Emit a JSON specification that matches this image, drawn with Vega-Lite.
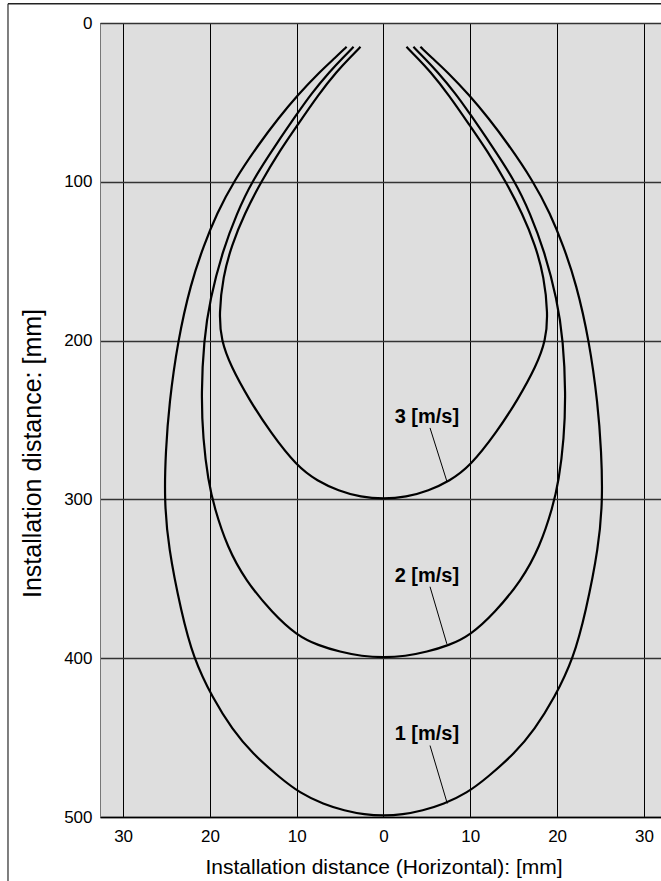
{
  "$schema": "https://vega.github.io/schema/vega-lite/v6.json",
  "autosize": "none",
  "width": 561,
  "height": 794,
  "padding": {"left": 100, "top": 23, "right": 0, "bottom": 64},
  "background": "white",
  "config": {
    "font": "Liberation Sans",
    "view": {"fill": "#dedede", "stroke": "#000", "strokeWidth": 1},
    "axis": {"labelFont": "Liberation Sans", "titleFont": "Liberation Sans", "labelColor": "#000", "titleColor": "#000", "titleFontWeight": "normal"}
  },
  "datasets": {
    "curves": [
      {"curve": "1", "o": 1, "x": -4.25, "y": 15},
      {"curve": "1", "o": 2, "x": -5.6, "y": 22},
      {"curve": "1", "o": 3, "x": -7.2, "y": 30},
      {"curve": "1", "o": 4, "x": -10.0, "y": 46},
      {"curve": "1", "o": 5, "x": -12.1, "y": 60},
      {"curve": "1", "o": 6, "x": -14.2, "y": 75},
      {"curve": "1", "o": 7, "x": -17.3, "y": 100},
      {"curve": "1", "o": 8, "x": -19.2, "y": 120},
      {"curve": "1", "o": 9, "x": -20.7, "y": 140},
      {"curve": "1", "o": 10, "x": -22.2, "y": 164},
      {"curve": "1", "o": 11, "x": -23.7, "y": 200},
      {"curve": "1", "o": 12, "x": -24.7, "y": 240},
      {"curve": "1", "o": 13, "x": -25.1, "y": 270},
      {"curve": "1", "o": 14, "x": -25.25, "y": 300},
      {"curve": "1", "o": 15, "x": -24.8, "y": 330},
      {"curve": "1", "o": 16, "x": -23.3, "y": 371},
      {"curve": "1", "o": 17, "x": -21.9, "y": 400},
      {"curve": "1", "o": 18, "x": -19.7, "y": 425},
      {"curve": "1", "o": 19, "x": -17.4, "y": 445},
      {"curve": "1", "o": 20, "x": -15.1, "y": 460},
      {"curve": "1", "o": 21, "x": -12.0, "y": 475},
      {"curve": "1", "o": 22, "x": -9.6, "y": 485},
      {"curve": "1", "o": 23, "x": -6.9, "y": 492},
      {"curve": "1", "o": 24, "x": -4.5, "y": 496},
      {"curve": "1", "o": 25, "x": -2.2, "y": 498.5},
      {"curve": "1", "o": 26, "x": 0, "y": 499.2},
      {"curve": "1", "o": 27, "x": 2.2, "y": 498.5},
      {"curve": "1", "o": 28, "x": 4.5, "y": 496},
      {"curve": "1", "o": 29, "x": 6.9, "y": 492},
      {"curve": "1", "o": 30, "x": 9.6, "y": 485},
      {"curve": "1", "o": 31, "x": 12.0, "y": 475},
      {"curve": "1", "o": 32, "x": 15.1, "y": 460},
      {"curve": "1", "o": 33, "x": 17.4, "y": 445},
      {"curve": "1", "o": 34, "x": 19.7, "y": 425},
      {"curve": "1", "o": 35, "x": 21.9, "y": 400},
      {"curve": "1", "o": 36, "x": 23.3, "y": 371},
      {"curve": "1", "o": 37, "x": 24.8, "y": 330},
      {"curve": "1", "o": 38, "x": 25.25, "y": 300},
      {"curve": "1", "o": 39, "x": 25.1, "y": 270},
      {"curve": "1", "o": 40, "x": 24.7, "y": 240},
      {"curve": "1", "o": 41, "x": 23.7, "y": 200},
      {"curve": "1", "o": 42, "x": 22.2, "y": 164},
      {"curve": "1", "o": 43, "x": 20.7, "y": 140},
      {"curve": "1", "o": 44, "x": 19.2, "y": 120},
      {"curve": "1", "o": 45, "x": 17.3, "y": 100},
      {"curve": "1", "o": 46, "x": 14.2, "y": 75},
      {"curve": "1", "o": 47, "x": 12.1, "y": 60},
      {"curve": "1", "o": 48, "x": 10.0, "y": 46},
      {"curve": "1", "o": 49, "x": 7.2, "y": 30},
      {"curve": "1", "o": 50, "x": 5.6, "y": 22},
      {"curve": "1", "o": 51, "x": 4.25, "y": 15},

      {"curve": "2", "o": 1, "x": -3.45, "y": 15},
      {"curve": "2", "o": 2, "x": -4.7, "y": 22},
      {"curve": "2", "o": 3, "x": -6.1, "y": 30},
      {"curve": "2", "o": 4, "x": -8.4, "y": 45},
      {"curve": "2", "o": 5, "x": -10.0, "y": 57.6},
      {"curve": "2", "o": 6, "x": -12.2, "y": 75},
      {"curve": "2", "o": 7, "x": -15.2, "y": 100},
      {"curve": "2", "o": 8, "x": -16.9, "y": 120},
      {"curve": "2", "o": 9, "x": -18.5, "y": 143},
      {"curve": "2", "o": 10, "x": -20.0, "y": 174},
      {"curve": "2", "o": 11, "x": -20.7, "y": 200},
      {"curve": "2", "o": 12, "x": -21.0, "y": 233},
      {"curve": "2", "o": 13, "x": -20.8, "y": 262},
      {"curve": "2", "o": 14, "x": -20.2, "y": 288},
      {"curve": "2", "o": 15, "x": -19.5, "y": 305},
      {"curve": "2", "o": 16, "x": -18.0, "y": 330},
      {"curve": "2", "o": 17, "x": -15.9, "y": 351},
      {"curve": "2", "o": 18, "x": -12.8, "y": 371.5},
      {"curve": "2", "o": 19, "x": -10.0, "y": 385.6},
      {"curve": "2", "o": 20, "x": -7.5, "y": 392},
      {"curve": "2", "o": 21, "x": -5.0, "y": 396},
      {"curve": "2", "o": 22, "x": -2.5, "y": 398.8},
      {"curve": "2", "o": 23, "x": 0, "y": 399.6},
      {"curve": "2", "o": 24, "x": 2.5, "y": 398.8},
      {"curve": "2", "o": 25, "x": 5.0, "y": 396},
      {"curve": "2", "o": 26, "x": 7.5, "y": 392},
      {"curve": "2", "o": 27, "x": 10.0, "y": 385.6},
      {"curve": "2", "o": 28, "x": 12.8, "y": 371.5},
      {"curve": "2", "o": 29, "x": 15.9, "y": 351},
      {"curve": "2", "o": 30, "x": 18.0, "y": 330},
      {"curve": "2", "o": 31, "x": 19.5, "y": 305},
      {"curve": "2", "o": 32, "x": 20.2, "y": 288},
      {"curve": "2", "o": 33, "x": 20.8, "y": 262},
      {"curve": "2", "o": 34, "x": 21.0, "y": 233},
      {"curve": "2", "o": 35, "x": 20.7, "y": 200},
      {"curve": "2", "o": 36, "x": 20.0, "y": 174},
      {"curve": "2", "o": 37, "x": 18.5, "y": 143},
      {"curve": "2", "o": 38, "x": 16.9, "y": 120},
      {"curve": "2", "o": 39, "x": 15.2, "y": 100},
      {"curve": "2", "o": 40, "x": 12.2, "y": 75},
      {"curve": "2", "o": 41, "x": 10.0, "y": 57.6},
      {"curve": "2", "o": 42, "x": 8.4, "y": 45},
      {"curve": "2", "o": 43, "x": 6.1, "y": 30},
      {"curve": "2", "o": 44, "x": 4.7, "y": 22},
      {"curve": "2", "o": 45, "x": 3.45, "y": 15},

      {"curve": "3", "o": 1, "x": -2.65, "y": 15},
      {"curve": "3", "o": 2, "x": -3.9, "y": 22},
      {"curve": "3", "o": 3, "x": -5.3, "y": 30},
      {"curve": "3", "o": 4, "x": -7.5, "y": 45},
      {"curve": "3", "o": 5, "x": -10.0, "y": 65},
      {"curve": "3", "o": 6, "x": -11.9, "y": 80},
      {"curve": "3", "o": 7, "x": -14.1, "y": 100},
      {"curve": "3", "o": 8, "x": -16.0, "y": 120},
      {"curve": "3", "o": 9, "x": -17.5, "y": 140},
      {"curve": "3", "o": 10, "x": -18.5, "y": 160},
      {"curve": "3", "o": 11, "x": -18.95, "y": 183},
      {"curve": "3", "o": 12, "x": -18.7, "y": 200},
      {"curve": "3", "o": 13, "x": -17.6, "y": 216},
      {"curve": "3", "o": 14, "x": -15.5, "y": 237},
      {"curve": "3", "o": 15, "x": -13.0, "y": 258},
      {"curve": "3", "o": 16, "x": -10.0, "y": 279},
      {"curve": "3", "o": 17, "x": -7.6, "y": 288.5},
      {"curve": "3", "o": 18, "x": -5.2, "y": 294.5},
      {"curve": "3", "o": 19, "x": -2.6, "y": 298.6},
      {"curve": "3", "o": 20, "x": 0, "y": 299.7},
      {"curve": "3", "o": 21, "x": 2.6, "y": 298.6},
      {"curve": "3", "o": 22, "x": 5.2, "y": 294.5},
      {"curve": "3", "o": 23, "x": 7.6, "y": 288.5},
      {"curve": "3", "o": 24, "x": 10.0, "y": 279},
      {"curve": "3", "o": 25, "x": 13.0, "y": 258},
      {"curve": "3", "o": 26, "x": 15.5, "y": 237},
      {"curve": "3", "o": 27, "x": 17.6, "y": 216},
      {"curve": "3", "o": 28, "x": 18.7, "y": 200},
      {"curve": "3", "o": 29, "x": 18.95, "y": 183},
      {"curve": "3", "o": 30, "x": 18.5, "y": 160},
      {"curve": "3", "o": 31, "x": 17.5, "y": 140},
      {"curve": "3", "o": 32, "x": 16.0, "y": 120},
      {"curve": "3", "o": 33, "x": 14.1, "y": 100},
      {"curve": "3", "o": 34, "x": 11.9, "y": 80},
      {"curve": "3", "o": 35, "x": 10.0, "y": 65},
      {"curve": "3", "o": 36, "x": 7.5, "y": 45},
      {"curve": "3", "o": 37, "x": 5.3, "y": 30},
      {"curve": "3", "o": 38, "x": 3.9, "y": 22},
      {"curve": "3", "o": 39, "x": 2.65, "y": 15}
    ],
    "labels": [
      {"label": "3 [m/s]", "x": 5.0, "y": 248, "x1": 5.36, "y1": 255, "x2": 7.3, "y2": 288.6},
      {"label": "2 [m/s]", "x": 5.0, "y": 348, "x1": 5.36, "y1": 355, "x2": 7.3, "y2": 391},
      {"label": "1 [m/s]", "x": 5.0, "y": 448, "x1": 5.36, "y1": 455, "x2": 7.35, "y2": 491.5}
    ]
  },
  "layer": [
    {
      "data": {"name": "curves"},
      "mark": {"type": "line", "color": "#000", "strokeWidth": 2.2, "interpolate": "basis"},
      "encoding": {
        "x": {
          "field": "x", "type": "quantitative",
          "scale": {"domain": [-32.66, 31.97], "nice": false, "zero": false},
          "axis": {
            "values": [-30, -20, -10, 0, 10, 20, 30],
            "labelExpr": "abs(datum.value)",
            "grid": true, "gridColor": "#000", "gridWidth": 1, "gridOpacity": 1,
            "ticks": false, "domainColor": "#000", "domainWidth": 1.5,
            "labelFontSize": 17, "labelPadding": 11,
            "title": "Installation distance (Horizontal): [mm]",
            "titleFontSize": 21, "titleX": 283.5, "titleY": 56, "titleAlign": "center", "titleBaseline": "alphabetic"
          }
        },
        "y": {
          "field": "y", "type": "quantitative",
          "scale": {"domain": [0, 500], "reverse": true, "nice": false},
          "axis": {
            "values": [0, 100, 200, 300, 400, 500],
            "grid": true, "gridColor": "#333", "gridWidth": 1.3, "gridOpacity": 1,
            "ticks": false, "domainColor": "#777", "domainWidth": 1,
            "labelFontSize": 17, "labelPadding": 8,
            "title": "Installation distance: [mm]",
            "titleFontSize": 25, "titleAngle": 270, "titleX": -68, "titleY": 430, "titleAlign": "center", "titleBaseline": "middle"
          }
        },
        "detail": {"field": "curve"},
        "order": {"field": "o", "type": "quantitative"}
      }
    },
    {
      "data": {"name": "labels"},
      "mark": {"type": "rule", "color": "#000", "strokeWidth": 1},
      "encoding": {
        "x": {"field": "x1", "type": "quantitative"},
        "y": {"field": "y1", "type": "quantitative"},
        "x2": {"field": "x2"},
        "y2": {"field": "y2"}
      }
    },
    {
      "data": {"name": "labels"},
      "mark": {"type": "text", "fontSize": 20, "fontWeight": "bold", "font": "Liberation Sans", "align": "center", "baseline": "middle", "color": "#000"},
      "encoding": {
        "x": {"field": "x", "type": "quantitative"},
        "y": {"field": "y", "type": "quantitative"},
        "text": {"field": "label"}
      }
    },
    {
      "data": {"values": [{}]},
      "mark": {"type": "rule", "clip": false, "color": "#555", "strokeWidth": 1.5},
      "encoding": {
        "x": {"datum": -43.26},
        "y": {"datum": -12.1},
        "y2": {"datum": 545}
      }
    },
    {
      "data": {"values": [{}]},
      "mark": {"type": "rule", "clip": false, "color": "#222", "strokeWidth": 1.5},
      "encoding": {
        "x": {"datum": -43.26},
        "x2": {"datum": 33},
        "y": {"datum": -12.1}
      }
    }
  ]
}
